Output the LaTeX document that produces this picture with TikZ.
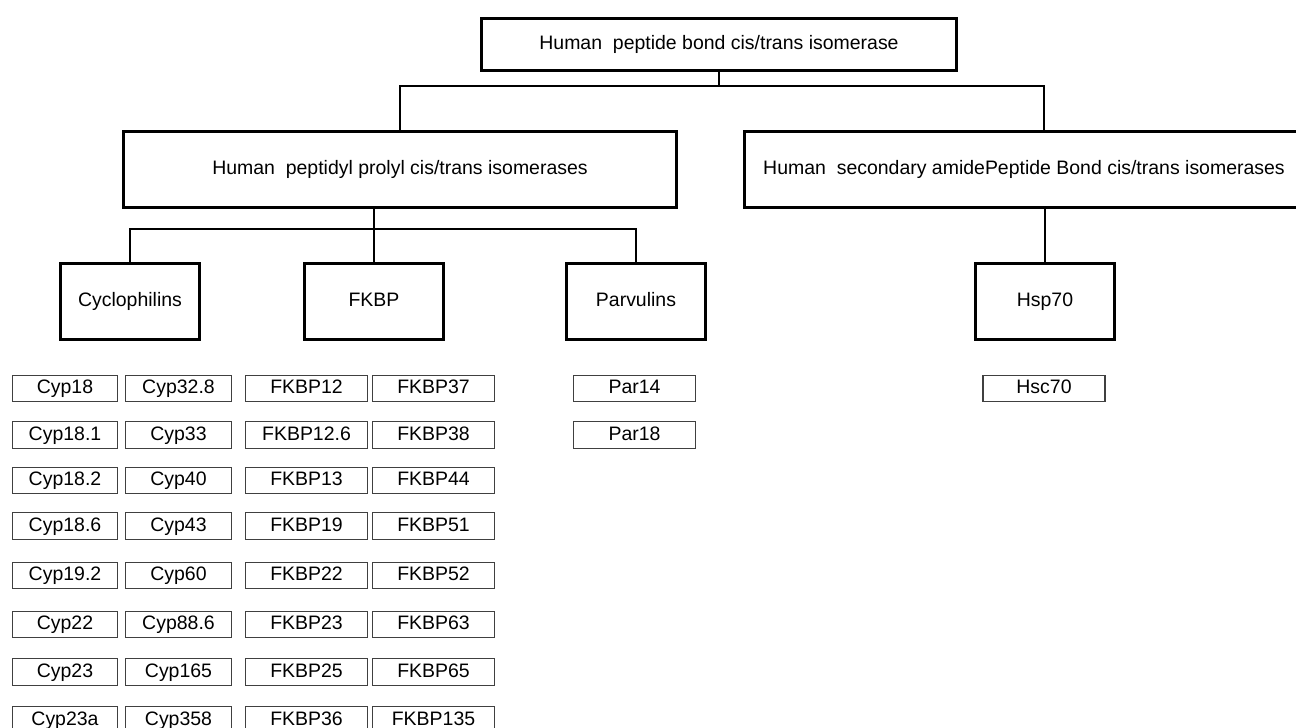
\documentclass[tikz,border=0pt]{standalone}
\usepackage{fontspec}
\setmainfont{Liberation Sans}

\tikzset{
    heavybox/.style={draw, line width=2.4pt, inner sep=0pt, minimum height=57pt,
        text height=10.6pt, text depth=3pt},
    leafbox/.style={draw=black!75, line width=0.8pt, inner sep=0pt, minimum height=20pt,
        text height=10.6pt, text depth=3pt},
    link/.style={line width=1.1pt},
}

\begin{document}
\begin{tikzpicture}[x=0.75pt, y=-0.75pt, font=\fontsize{14.6}{17}\selectfont]
    \useasboundingbox (0,0) rectangle (1296,728);
    \clip (0,0) rectangle (1296,728);

    % top and second level
    \node[heavybox, minimum width=356pt, minimum height=39pt] (top) at (719,44.5) {Human\ \ peptide bond cis/trans isomerase};
    \node[heavybox, minimum width=415pt] (ppi) at (400,169.5) {Human\ \ peptidyl prolyl cis/trans isomerases};
    \node[heavybox, minimum width=419pt] (sab) at (1024,169.5) {Human\ \ secondary amidePeptide Bond cis/trans isomerases};

    % families
    \node[heavybox, minimum width=104.5pt] (cyc) at (130,301.5) {Cyclophilins};
    \node[heavybox, minimum width=104.5pt] (fkbp) at (374,301.5) {FKBP};
    \node[heavybox, minimum width=104.5pt] (par) at (636,301.5) {Parvulins};
    \node[heavybox, minimum width=104.5pt] (hsp) at (1045,301.5) {Hsp70};

    % connectors
    \coordinate (j1) at (719,86);
    \coordinate (sabin) at (1044,130);
    \draw[link] (top.south) -- (j1);
    \draw[link] (ppi.north) |- (j1) -| (sabin);
    \coordinate (j2) at (374,229);
    \draw[link] (ppi.south -| fkbp.north) -- (fkbp.north);
    \draw[link] (cyc.north) |- (j2) -| (par.north);
    \draw[link] (sab.south -| hsp.north) -- (hsp.north);

    % members
    \foreach \ya/\a/\b/\c/\d [count=\i] in {
        388.5/Cyp18/Cyp32.8/FKBP12/FKBP37,
        435/Cyp18.1/Cyp33/FKBP12.6/FKBP38,
        480.5/Cyp18.2/Cyp40/FKBP13/FKBP44,
        526/Cyp18.6/Cyp43/FKBP19/FKBP51,
        575.5/Cyp19.2/Cyp60/FKBP22/FKBP52,
        624.5/Cyp22/Cyp88.6/FKBP23/FKBP63,
        672/Cyp23/Cyp165/FKBP25/FKBP65,
        720/Cyp23a/Cyp358/FKBP36/FKBP135}{
            \node[leafbox, minimum width=79pt] (cypa\i) at (65,\ya) {\a};
            \node[leafbox, minimum width=79pt] (cypb\i) at (178.5,\ya) {\b};
            \node[leafbox, minimum width=91.5pt] (fkbpa\i) at (306.5,\ya) {\c};
            \node[leafbox, minimum width=91.5pt] (fkbpb\i) at (433.5,\ya) {\d};
        }
    \node[leafbox, minimum width=91.5pt] (par14) at (634.5,388.5) {Par14};
    \node[leafbox, minimum width=91.5pt] (par18) at (634.5,435) {Par18};
    \node[leafbox, minimum width=91.5pt] (hsc70) at (1044,388.5) {Hsc70};
\end{tikzpicture}
\end{document}
